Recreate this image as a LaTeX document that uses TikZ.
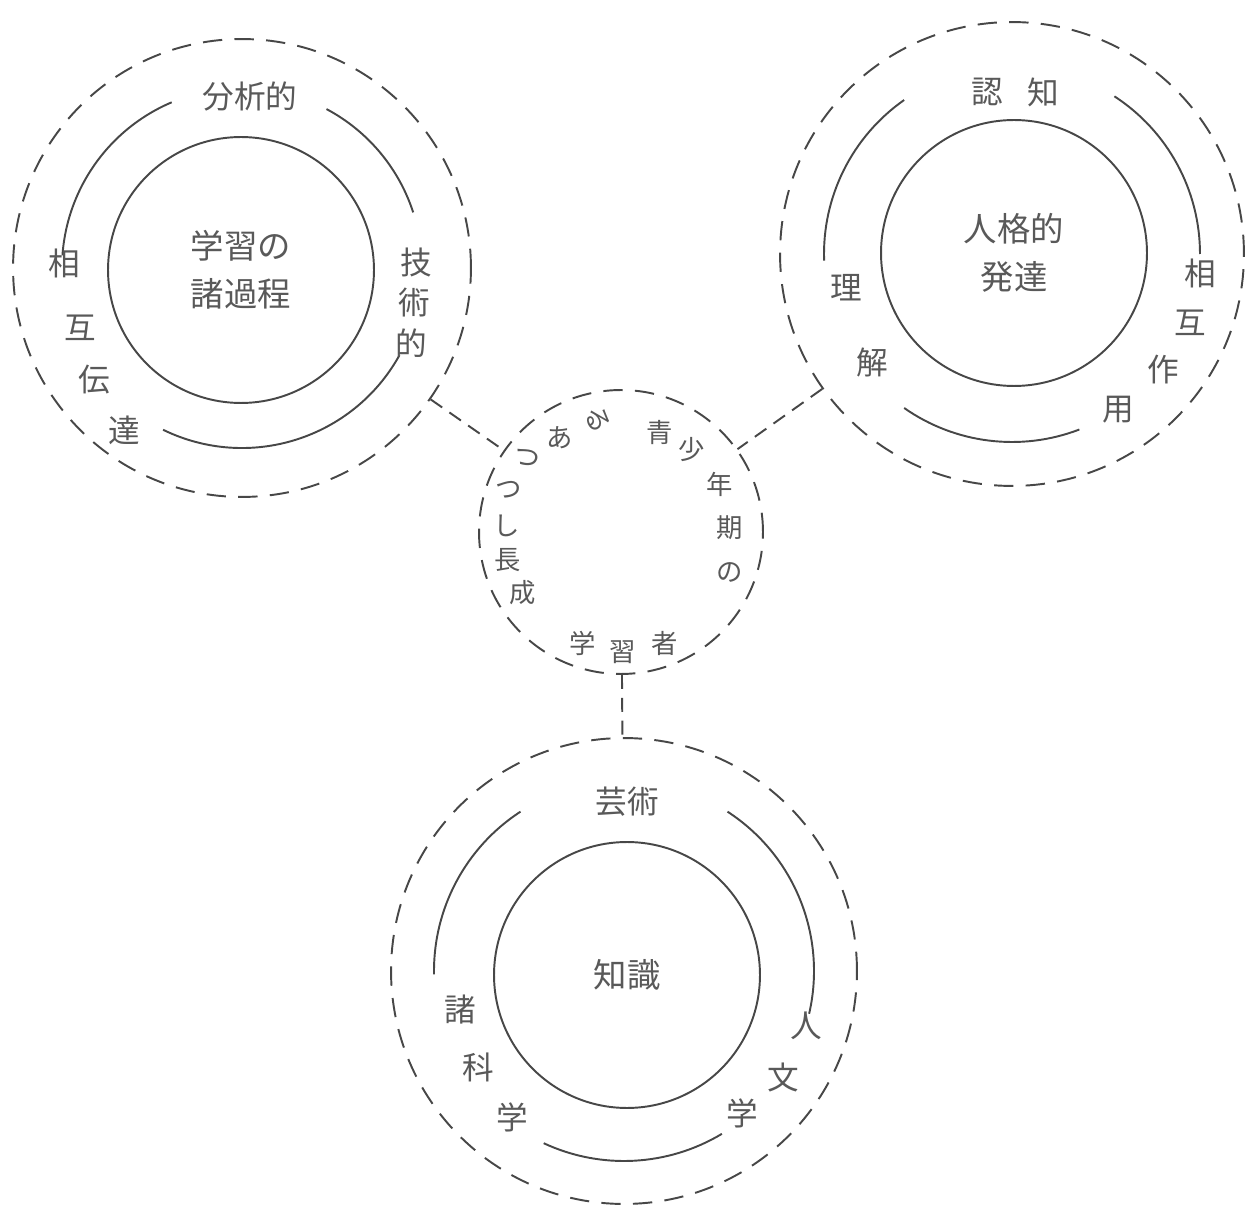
\documentclass[tikz,border=0pt]{standalone}
\usepackage{fontspec}
\newfontfamily\jp{Noto Sans CJK JP}
\definecolor{lc}{gray}{0.28}
\definecolor{tc}{gray}{0.35}
\tikzset{
  dashc/.style={draw=lc, line width=1.1pt, dash pattern=on 11pt off 7pt, circle, inner sep=0pt},
  solidc/.style={draw=lc, line width=1.1pt, circle, inner sep=0pt, align=center,
     font=\jp\fontsize{19}{27}\selectfont, text=tc},
  arcline/.style={draw=lc, line width=1.1pt},
  lbl/.style={font=\jp\fontsize{18}{22}\selectfont, text=tc, inner sep=0pt},
  mlbl/.style={font=\jp\fontsize{15}{18}\selectfont, text=tc, inner sep=0pt},
  conn/.style={draw=lc, line width=1.1pt, dash pattern=on 8pt off 5pt},
}
\begin{document}
\begin{tikzpicture}[x=0.02cm,y=0.02cm]
\useasboundingbox (0,0) rectangle (1252,-1209);

% ---------- top-left cluster ----------
\node[dashc, minimum size=9.16cm] (tl) at (242,-268) {};
\node[solidc, minimum size=5.32cm] (tlin) at (241,-270) {学習の\\諸過程};
\draw[arcline] (tl.center) ++(113:180) arc[start angle=113, end angle=176, radius=180];
\draw[arcline] (tl.center) ++(18:180) arc[start angle=18, end angle=62, radius=180];
\draw[arcline] (tl.center) ++(-116:180) arc[start angle=-116, end angle=-29, radius=180];
\node[lbl] (tl1) at (250,-97) {分析的};
\node[lbl] (tl2) at (416,-263) {技};
\node[lbl] (tl3) at (414,-303) {術};
\node[lbl] (tl4) at (411,-343) {的};
\node[lbl] (tl5) at (64,-263) {相};
\node[lbl] (tl6) at (80,-328) {互};
\node[lbl] (tl7) at (94,-380) {伝};
\node[lbl] (tl8) at (124,-430) {達};

% ---------- top-right cluster ----------
\node[dashc, minimum size=9.28cm] (tr) at (1012,-254) {};
\node[solidc, minimum size=5.32cm] (trin) at (1014,-253) {人格的\\発達};
\draw[arcline] (tr.center) ++(125:188) arc[start angle=125, end angle=182, radius=188];
\draw[arcline] (tr.center) ++(0:188) arc[start angle=0, end angle=57, radius=188];
\draw[arcline] (tr.center) ++(-125:188) arc[start angle=-125, end angle=-69, radius=188];
\node[lbl] (tr1) at (987,-92) {認};
\node[lbl] (tr2) at (1043,-92) {知};
\node[lbl] (tr3) at (846,-288) {理};
\node[lbl] (tr4) at (872,-363) {解};
\node[lbl] (tr5) at (1200,-273) {相};
\node[lbl] (tr6) at (1190,-323) {互};
\node[lbl] (tr7) at (1163,-370) {作};
\node[lbl] (tr8) at (1118,-410) {用};

% ---------- middle circle ----------
\node[dashc, minimum size=5.68cm] (mid) at (621,-532) {};
\node[mlbl] (m1) at (523,-593) {成};
\node[mlbl] (m2) at (508,-560) {長};
\node[mlbl] (m3) at (507,-526) {し};
\node[mlbl] (m4) at (509,-490) {つ};
\node[mlbl, rotate=-20] (m5) at (527,-458) {つ};
\node[mlbl] (m6) at (560,-438) {あ};
\node[mlbl, rotate=-70] (m7) at (598,-420) {る};
\node[mlbl] (m8) at (660,-433) {青};
\node[mlbl] (m9) at (692,-450) {少};
\node[mlbl] (m10) at (720,-484) {年};
\node[mlbl] (m11) at (730,-528) {期};
\node[mlbl] (m12) at (730,-572) {の};
\node[mlbl] (m13) at (583,-643) {学};
\node[mlbl] (m14) at (623,-652) {習};
\node[mlbl] (m15) at (665,-643) {者};

% ---------- bottom cluster ----------
\node[dashc, minimum size=9.32cm] (bot) at (624,-971) {};
\node[solidc, minimum size=5.32cm] (botin) at (627,-975) {知識};
\draw[arcline] (bot.center) ++(123:190) arc[start angle=123, end angle=181, radius=190];
\draw[arcline] (bot.center) ++(-13:190) arc[start angle=-13, end angle=57, radius=190];
\draw[arcline] (bot.center) ++(-115:190) arc[start angle=-115, end angle=-59, radius=190];
\node[lbl] (b1) at (627,-802) {芸術};
\node[lbl] (b2) at (460,-1010) {諸};
\node[lbl] (b3) at (478,-1067) {科};
\node[lbl] (b4) at (512,-1117) {学};
\node[lbl] (b5) at (806,-1026) {人};
\node[lbl] (b6) at (783,-1077) {文};
\node[lbl] (b7) at (742,-1113) {学};

% ---------- connectors ----------
\draw[conn] (tl) -- (mid);
\draw[conn] (tr) -- (mid);
\draw[conn] (mid) -- (bot);
\end{tikzpicture}
\end{document}
